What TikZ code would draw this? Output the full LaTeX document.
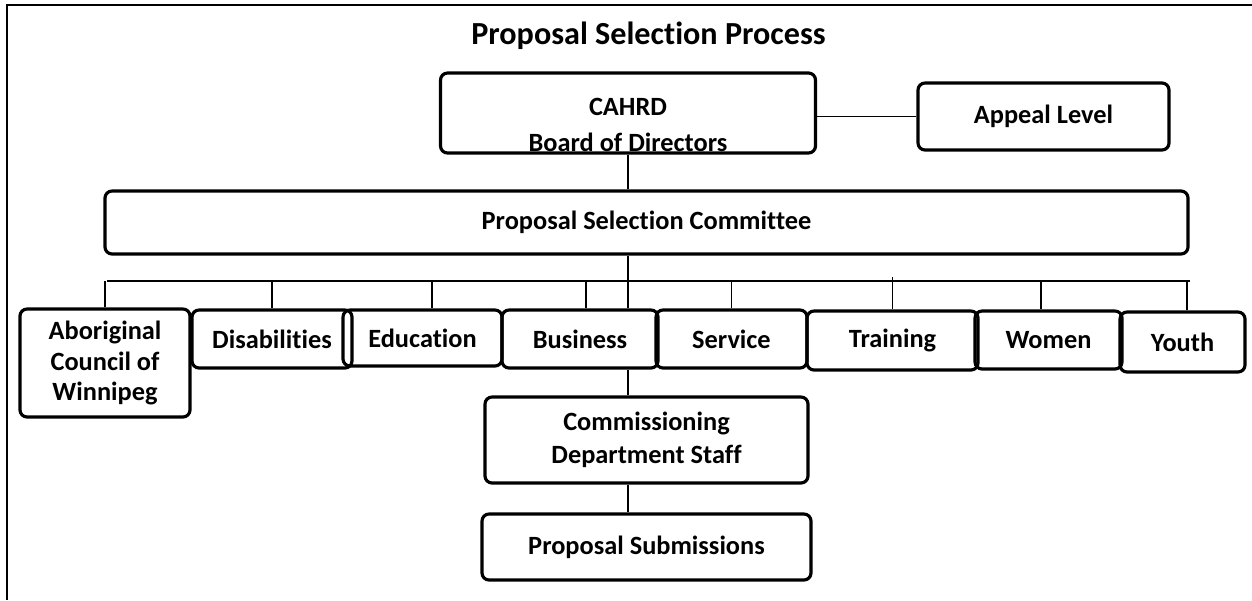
\documentclass[tikz,border=0pt]{standalone}
\usepackage{fontspec}
\setmainfont{Carlito}[Ligatures=NoCommon]
\usetikzlibrary{positioning,calc}

\begin{document}
\begin{tikzpicture}[
    box/.style={draw, line width=1.8pt, rounded corners=4pt, align=center, inner sep=0pt,
        font=\bfseries\fontsize{15}{15}\selectfont},
    link/.style={line width=0.8pt}
]
    \useasboundingbox (0,0) rectangle (25.04,-12);
    \draw [line width=1.6pt] (0.14,-12) -- (0.14,-0.1) -- (25.04,-0.1);

    \node [font=\bfseries\fontsize{18.3}{22}\selectfont] (title) at (12.97,-0.72) {Proposal Selection Process};

    % Board and appeal
    \node [box, minimum width=7.5cm, minimum height=1.6cm,
        label={[align=center, font=\bfseries\fontsize{15}{20}\selectfont, yshift=-0.24cm]center:{CAHRD\\Board of Directors}}]
        (cahrd) at (12.56,-2.26) {};
    \node [box, minimum width=5.02cm, minimum height=1.34cm] (appeal) at (20.87,-2.33) {Appeal Level};
    \draw [link] (cahrd.east |- appeal.west) -- (appeal.west);

    % Committee
    \node [box, minimum width=21.66cm, minimum height=1.26cm] (psc) at (12.93,-4.45) {Proposal Selection Committee};
    \draw [link] (cahrd.south) -- (cahrd.south |- psc.north);

    % Sector panels
    \node [box, minimum width=3.4cm, minimum height=2.16cm, font=\bfseries\fontsize{15}{17.5}\selectfont] (abor) at (2.1,-7.26) {Aboriginal\\Council of\\Winnipeg};
    \node [box, minimum width=3.2cm, minimum height=1.16cm] (disab) at (5.44,-6.78) {Disabilities};
    \node [box, minimum width=3.18cm, minimum height=1.12cm] (educ) at (8.45,-6.76) {Education};
    \node [box, minimum width=3.12cm, minimum height=1.16cm] (biz) at (11.6,-6.78) {Business};
    \node [box, minimum width=3.02cm, minimum height=1.16cm] (serv) at (14.63,-6.78) {Service};
    \node [box, minimum width=3.42cm, minimum height=1.18cm] (train) at (17.85,-6.81) {Training};
    \node [box, minimum width=2.94cm, minimum height=1.16cm] (women) at (20.97,-6.8) {Women};
    \node [box, minimum width=2.5cm, minimum height=1.2cm] (youth) at (23.65,-6.84) {Youth};

    % Bus line
    \coordinate (bus_w) at (2.14,-5.62);
    \coordinate (bus_e) at (23.8,-5.62);
    \draw [link] (bus_w) -- (bus_e);
    \draw [link] (cahrd.south |- psc.south) -- (cahrd.south |- biz.north);
    \draw [link] (abor.north) -- (abor.north |- bus_w);
    \draw [link] (disab.north) -- (disab.north |- bus_w);
    \draw [link] ([xshift=0.19cm]educ.north) -- ([xshift=0.19cm]educ.north |- bus_w);
    \draw [link] ([xshift=0.12cm]biz.north) -- ([xshift=0.12cm]biz.north |- bus_w);
    \draw [link] (serv.north) -- (serv.north |- bus_w);
    \draw [link] (train.north) -- ([yshift=0.08cm]train.north |- bus_w);
    \draw [link] ([xshift=-0.15cm]women.north) -- ([xshift=-0.15cm]women.north |- bus_w);
    \draw [link] ([xshift=0.09cm]youth.north) -- ([xshift=0.09cm]youth.north |- bus_w);

    % Staff and submissions
    \node [box, minimum width=6.46cm, minimum height=1.72cm, font=\bfseries\fontsize{15}{19}\selectfont] (commis) at (12.93,-8.8) {Commissioning\\Department Staff};
    \node [box, minimum width=6.58cm, minimum height=1.32cm] (submis) at (12.93,-10.94) {Proposal Submissions};
    \draw [link] (cahrd.south |- biz.south) -- (cahrd.south |- commis.north);
    \draw [link] (cahrd.south |- commis.south) -- (cahrd.south |- submis.north);

\end{tikzpicture}
\end{document}
